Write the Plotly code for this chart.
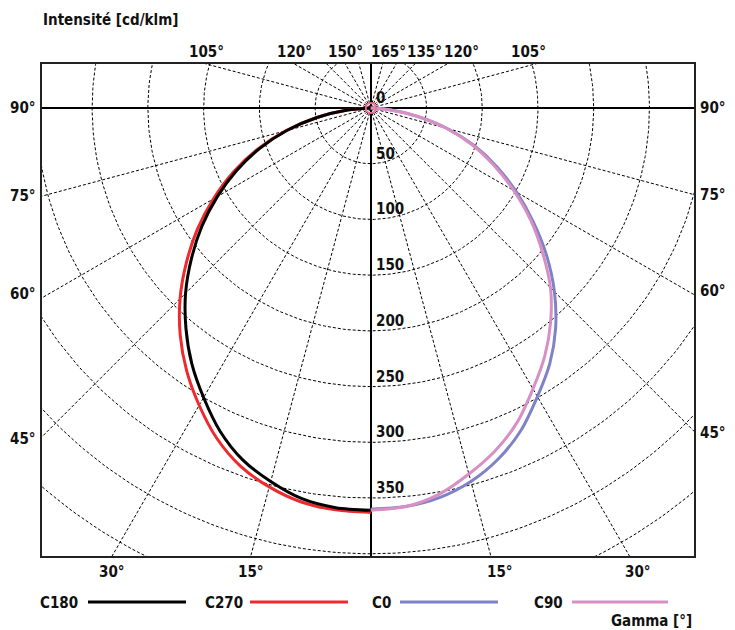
import numpy as np
import plotly.graph_objects as go

# ---------------- data ----------------
gamma = [0, 5, 10, 15, 20, 25, 30, 35, 40, 45, 50, 55, 60, 65, 70, 75, 80, 85, 90]
c180 = [361, 360, 356, 347, 336, 320, 300, 280, 258, 235, 210, 185, 159, 133, 106, 78, 49, 21, 0]
c270 = [363, 362, 359, 352, 342, 327, 308, 288, 266, 242, 216, 190, 163, 136, 108, 79, 49, 21, 0]
c0 = [360, 359, 355, 347, 335, 319, 299, 280, 258, 233, 206, 178, 151, 125, 99, 71, 42, 16, 0]
c90 = [361, 359, 352, 340, 327, 311, 291, 272, 251, 228, 201, 175, 148, 122, 97, 70, 41, 15, 0]

ring_values = [50, 100, 150, 200, 250, 300, 350, 400, 450]
ring_labels = ["0", "50", "100", "150", "200", "250", "300", "350"]
spoke_angles = [15, 30, 45, 60, 75, 105, 120, 135, 150, 165]
side_labels = [90, 75, 60, 45]
bottom_labels = [30, 15]
top_left_labels = [105, 120, 150]
top_right_labels = [165, 135, 120, 105]
series_names = ["C180", "C270", "C0", "C90"]

# ---------------- styling ----------------
X_MIN, X_MAX = -295, 290
Y_MIN, Y_MAX = -402, 39.5
FONT = "DejaVu Sans Condensed"
COLORS = {"C180": "#000000", "C270": "#ee2a2e", "C0": "#7f82c4", "C90": "#d890c4"}
PAGE_OFF = 8          # browser body margin
ML, MT, PW, PH = 34, 56, 652, 492
FIG_W, FIG_H = 727, 622

fig = go.Figure()

# rings (dashed)
th = np.radians(np.arange(0, 361, 1))
rx, ry = [], []
for r in ring_values:
    rx += list(r * np.sin(th)) + [None]
    ry += list(r * np.cos(th)) + [None]
fig.add_trace(go.Scatter(x=rx, y=ry, mode="lines",
                         line=dict(color="#000", width=1, dash="3px,2px"),
                         hoverinfo="skip"))

# spokes (dashed)
L = 700
sx, sy = [], []
for a in spoke_angles:
    g = np.radians(a)
    for s in (-1, 1):
        sx += [0, s * L * np.sin(g), None]
        sy += [0, -L * np.cos(g), None]
fig.add_trace(go.Scatter(x=sx, y=sy, mode="lines",
                         line=dict(color="#000", width=1, dash="3px,2px"),
                         hoverinfo="skip"))

# curves
g = np.radians(np.array(gamma, dtype=float))
curves = {"C180": (c180, -1), "C270": (c270, -1), "C0": (c0, 1), "C90": (c90, 1)}
for name in ["C270", "C180", "C0", "C90"]:
    vals, side = curves[name]
    v = np.array(vals, dtype=float)
    fig.add_trace(go.Scatter(x=side * v * np.sin(g), y=-v * np.cos(g), mode="lines",
                             line=dict(color=COLORS[name], width=3, shape="spline",
                                       smoothing=0.8),
                             name=name, hoverinfo="skip"))

# centre marker
fig.add_trace(go.Scatter(x=[0], y=[0], mode="markers",
                         marker=dict(symbol="circle-open", size=10,
                                     line=dict(color="#000", width=1.8)),
                         hoverinfo="skip"))

lab_font = dict(family=FONT, size=15, color="#111", weight="bold")
ann = []

# ring labels
for i, t in enumerate(ring_labels):
    ann.append(dict(x=0, y=-50 * i, xref="x", yref="y", text=t, showarrow=False,
                    xanchor="left", yanchor="middle", xshift=3, yshift=10, font=lab_font))

# side labels
side_yshift = {90: 0, 75: 0, 60: 4, 45: -2}
for a in side_labels:
    ga = np.radians(a)
    yl = X_MIN * np.cos(ga) / np.sin(ga) if a != 90 else 0
    yr = -X_MAX * np.cos(ga) / np.sin(ga) if a != 90 else 0
    ann.append(dict(x=0, y=yl, xref="paper", yref="y", text=f"{a}°",
                    showarrow=False, xanchor="center", xshift=-19, yanchor="middle",
                    yshift=side_yshift[a], font=lab_font))
    ann.append(dict(x=1, y=yr, xref="paper", yref="y", text=f"{a}°",
                    showarrow=False, xanchor="center", xshift=19, yanchor="middle",
                    yshift=side_yshift[a], font=lab_font))

# bottom labels
for a in bottom_labels:
    dx = -Y_MIN * np.tan(np.radians(a))
    ann.append(dict(x=-dx, y=0, xref="x", yref="paper", text=f"{a}°", showarrow=False,
                    xanchor="center", yanchor="top", yshift=-5, font=lab_font))
    ann.append(dict(x=dx, y=0, xref="x", yref="paper", text=f"{a}°", showarrow=False,
                    xanchor="center", yanchor="top", yshift=-5, xshift=9, font=lab_font))

# top labels
for a in top_left_labels:
    dx = Y_MAX / np.tan(np.radians(a - 90))
    ann.append(dict(x=-dx, y=1, xref="x", yref="paper", text=f"{a}°",
                    showarrow=False, xanchor="center", yanchor="bottom", yshift=1,
                    font=lab_font))
right_shift = {165: 6, 135: 10, 120: 14, 105: -7}
for a in top_right_labels:
    dx = Y_MAX / np.tan(np.radians(a - 90))
    ann.append(dict(x=dx, y=1, xref="x", yref="paper", text=f"{a}°", showarrow=False,
                    xanchor="center", yanchor="bottom", yshift=1, xshift=right_shift[a],
                    font=lab_font))

# title & gamma
ann.append(dict(x=0, y=1, xref="paper", yref="paper", text="Intensité [cd/klm]",
                showarrow=False, xanchor="left", yanchor="middle", yshift=44, xshift=-1,
                font=lab_font))
ann.append(dict(x=1, y=0, xref="paper", yref="paper", text="Gamma [°]",
                showarrow=False, xanchor="right", yanchor="middle", yshift=-65, font=lab_font))


# legend (text then line)
def px2paper(px):
    return (px - PAGE_OFF - ML) / float(PW)


leg_text_x = [38, 203, 370, 532]
leg_line_x = [(88, 186), (250, 348), (400, 498), (572, 668)]
shapes = []
for name, tx, (x0, x1) in zip(series_names, leg_text_x, leg_line_x):
    ann.append(dict(x=px2paper(tx), y=0, xref="paper", yref="paper", text=name,
                    showarrow=False, xanchor="left", yanchor="middle", yshift=-47,
                    font=lab_font))
    yp = -46 / float(PH)
    shapes.append(dict(type="line", xref="paper", yref="paper", x0=px2paper(x0),
                       x1=px2paper(x1), y0=yp, y1=yp,
                       line=dict(color=COLORS[name], width=3)))

fig.update_layout(
    width=FIG_W, height=FIG_H,
    margin=dict(l=ML, r=FIG_W - ML - PW, t=MT, b=FIG_H - MT - PH),
    paper_bgcolor="white", plot_bgcolor="white",
    showlegend=False,
    annotations=ann, shapes=shapes,
    xaxis=dict(range=[X_MIN, X_MAX], showgrid=False, showticklabels=False, ticks="",
               zeroline=True, zerolinecolor="#000", zerolinewidth=1.5,
               showline=True, mirror=True, linecolor="#222", linewidth=2, fixedrange=True),
    yaxis=dict(range=[Y_MIN, Y_MAX], showgrid=False, showticklabels=False, ticks="",
               zeroline=True, zerolinecolor="#000", zerolinewidth=1.5,
               showline=True, mirror=True, linecolor="#222", linewidth=2, fixedrange=True),
)

fig.write_html("out.html")
